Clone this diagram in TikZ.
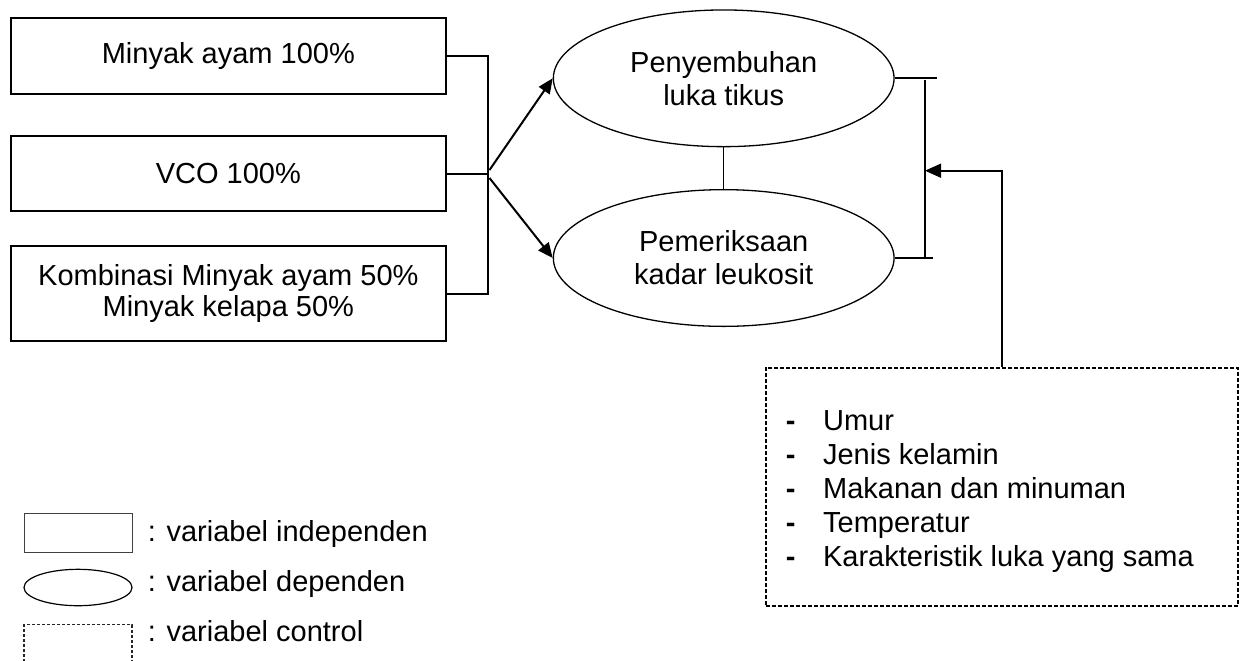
\documentclass[tikz,border=0pt]{standalone}
\usepackage{fontspec}
\setmainfont{Liberation Sans}
\usetikzlibrary{arrows.meta,shapes.geometric}
\begin{document}
\begin{tikzpicture}[x=0.5pt,y=-0.5pt,
  txt/.style={font=\fontsize{14.5}{16}\selectfont,inner sep=0pt},
  ivbox/.style={draw,line width=1pt,inner sep=0pt,minimum width=217.65pt,align=center,font=\fontsize{14.5}{15.9}\selectfont},
  dvell/.style={draw,ellipse,line width=0.65pt,inner sep=0pt,minimum width=170.35pt,minimum height=68.35pt,align=center,font=\fontsize{14.5}{16.5}\selectfont},
  link/.style={line width=1pt},
  arr/.style={line width=1pt,-{Triangle[length=7.5pt,width=6.5pt]}},
  ctrl/.style={draw,dash pattern=on 2pt off 1pt,line width=0.8pt,inner sep=0pt},
]
\useasboundingbox (0,0) rectangle (1242,660);
\clip (0,0) rectangle (1242,660);

% independent variables
\node[ivbox,minimum height=37.85pt] (b1) at (228.35,56.15) {Minyak ayam 100\%};
\node[ivbox,minimum height=37.5pt] (b2) at (228.35,173.5) {VCO 100\%};
\node[ivbox,minimum height=47.5pt] (b3) at (228.35,293.5) {Kombinasi Minyak ayam 50\%\\Minyak kelapa 50\%};

\coordinate (jt) at (487.7,56.15);
\coordinate (jb) at (487.7,293.5);
\draw[link] (b1.east) -- (jt) -- (jb) -- (b3.east);
\draw[link] (b2.east) -- (b2.east -| jt);

% dependent variables
\node[dvell] (e1) at (723.7,78.3) {Penyembuhan\\luka tikus};
\node[dvell] (e2) at (723.7,258) {Pemeriksaan\\kadar leukosit};

\coordinate (s1) at (489.5,170);
\coordinate (s2) at (489.5,178);
\draw[arr] (s1) -- (e1.west);
\draw[arr] (s2) -- (e2.west);
\draw[line width=0.6pt] (e1.south) -- (e2.north);

% right bracket
\coordinate (r1) at (936.5,78.3);
\coordinate (r2) at (932.7,258);
\draw[link] (e1.east) -- (r1);
\draw[link] (e2.east) -- (r2);
\coordinate (vt) at (925,80);
\coordinate (vb) at (925,259);
\draw[link] (vt) -- (vb);

% control variables
\node[ctrl,minimum width=236.15pt,minimum height=119pt] (c) at (1001.85,486.7) {};
\coordinate (ah) at (925,170.7);
\draw[line width=0.8pt,-{Triangle[length=8pt,width=7pt]}] (c.north) |- (ah);

\foreach \t [count=\i] in {Umur,Jenis kelamin,Makanan dan minuman,Temperatur,Karakteristik luka yang sama}
  \node[txt,anchor=base west] (l\i) at (785.5,{430+34*(\i-1)}) {\makebox[18.6pt][l]{\textbf{-}}\t};

% legend
\node[draw=black!75,line width=0.5pt,inner sep=0pt,minimum width=54pt,minimum height=19.7pt] (lr) at (78,533) {};
\node[draw,ellipse,line width=0.6pt,inner sep=0pt,minimum width=54pt,minimum height=18.2pt] (le) at (78,587.5) {};
\node[draw=black!85,dash pattern=on 1.5pt off 1pt,line width=0.55pt,inner sep=0pt,minimum width=54pt,minimum height=40pt,anchor=north] (lc) at (78,624.3) {};

\node[txt,anchor=base west] (t1) at (147.4,541) {: variabel independen};
\node[txt,anchor=base west] (t2) at (147.4,591.7) {: variabel dependen};
\node[txt,anchor=base west] (t3) at (147.4,641.7) {: variabel control};
\end{tikzpicture}
\end{document}
